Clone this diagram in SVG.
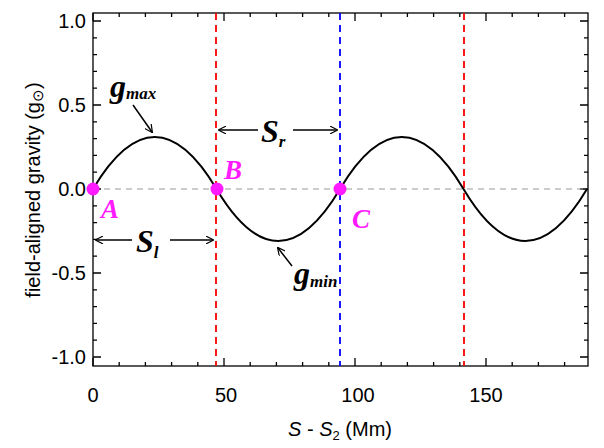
<svg xmlns="http://www.w3.org/2000/svg" width="604" height="448" viewBox="0 0 604 448">
<style>
.ax{stroke:#000;stroke-width:1.3;fill:none}
.tl{font-family:"Liberation Sans",Arial,sans-serif;font-size:20px;fill:#000}
.lb{font-family:"Liberation Serif","Times New Roman",serif;font-weight:bold;font-style:italic;fill:#000}
.pt{font-family:"Liberation Serif","Times New Roman",serif;font-weight:bold;font-style:italic;font-size:27px;fill:#ff1aff}
.ar{stroke:#000;stroke-width:1.5;fill:none;marker-end:url(#ah)}
</style>
<defs>
<marker id="ah" viewBox="0 0 10 10" refX="9" refY="5" markerWidth="8" markerHeight="8" orient="auto" markerUnits="userSpaceOnUse">
<path d="M0,0 L10,5 L0,10" fill="none" stroke="#000" stroke-width="1.5"/>
</marker>
</defs>
<rect width="604" height="448" fill="#fff"/>
<g id="axes">
<rect x="93" y="13" width="495" height="353" class="ax"/>
<path class="ax" d="M93,366v-8M224,366v-8M355,366v-8M486,366v-8M93,13v8M224,13v8M355,13v8M486,13v8
M119.2,366v-4M145.4,366v-4M171.6,366v-4M197.8,366v-4M250.2,366v-4M276.4,366v-4M302.6,366v-4M328.8,366v-4M381.2,366v-4M407.4,366v-4M433.6,366v-4M459.8,366v-4M512.2,366v-4M538.4,366v-4M564.6,366v-4
M119.2,13v4M145.4,13v4M171.6,13v4M197.8,13v4M250.2,13v4M276.4,13v4M302.6,13v4M328.8,13v4M381.2,13v4M407.4,13v4M433.6,13v4M459.8,13v4M512.2,13v4M538.4,13v4M564.6,13v4
M93,21h8M93,105h8M93,189h8M93,273h8M93,357h8M588,21h-8M588,105h-8M588,189h-8M588,273h-8M588,357h-8
M93,37.8h4M93,54.6h4M93,71.4h4M93,88.2h4M93,121.8h4M93,138.6h4M93,155.4h4M93,172.2h4M93,205.8h4M93,222.6h4M93,239.4h4M93,256.2h4M93,289.8h4M93,306.6h4M93,323.4h4M93,340.2h4
M588,37.8h-4M588,54.6h-4M588,71.4h-4M588,88.2h-4M588,121.8h-4M588,138.6h-4M588,155.4h-4M588,172.2h-4M588,205.8h-4M588,222.6h-4M588,239.4h-4M588,256.2h-4M588,289.8h-4M588,306.6h-4M588,323.4h-4M588,340.2h-4"/>
<g class="tl" text-anchor="end">
<text x="86" y="28">1.0</text><text x="86" y="112">0.5</text><text x="86" y="196">0.0</text><text x="86" y="280">-0.5</text><text x="86" y="364">-1.0</text>
</g>
<g class="tl" text-anchor="middle">
<text x="93" y="402">0</text><text x="226" y="402">50</text><text x="358" y="402">100</text><text x="486" y="402">150</text>
</g>
<text class="tl" x="340" y="436" text-anchor="middle"><tspan font-style="italic">S</tspan> - <tspan font-style="italic">S</tspan><tspan font-size="13" dy="4">2</tspan><tspan dy="-4"> (Mm)</tspan></text>
<text class="tl" transform="translate(40,190) rotate(-90)" text-anchor="middle">field-aligned gravity (g<tspan font-size="15" dy="3">⊙</tspan><tspan dy="-3">)</tspan></text>
</g>
<g id="lines">
<line x1="93" y1="189" x2="588" y2="189" stroke="#999" stroke-width="1.2" stroke-dasharray="6,5"/>
<line x1="216" y1="13" x2="216" y2="366" stroke="#f00" stroke-width="1.8" stroke-dasharray="7,5"/>
<line x1="340" y1="13" x2="340" y2="366" stroke="#00f" stroke-width="1.8" stroke-dasharray="7,5"/>
<line x1="464" y1="13" x2="464" y2="366" stroke="#f00" stroke-width="1.8" stroke-dasharray="7,5"/>
<path id="curve" fill="none" stroke="#000" stroke-width="2" d="M93,189 C134.2,119.7 175.3,119.7 216.5,189 C257.7,258.3 298.8,258.3 340,189 C381.2,119.7 422.3,119.7 463.5,189 C504.7,258.3 545.8,258.3 587,189"/>
</g>
<g id="connectors">
<line class="ar" x1="133" y1="105" x2="152" y2="132"/>
<line class="ar" x1="258" y1="130" x2="219" y2="130"/>
<line class="ar" x1="293" y1="130" x2="337" y2="130"/>
<line class="ar" x1="132" y1="240" x2="96" y2="240"/>
<line class="ar" x1="170" y1="240" x2="213" y2="240"/>
<line class="ar" x1="292" y1="266" x2="278" y2="248"/>
</g>
<g id="points" fill="#ff1aff">
<circle cx="93" cy="189" r="6.5"/><circle cx="217" cy="189" r="6.5"/><circle cx="340" cy="189" r="6.5"/>
</g>
<g id="labels">
<text class="lb" x="110" y="97" font-size="32">g<tspan font-size="17" dy="2">max</tspan></text>
<text class="lb" x="294" y="284" font-size="32">g<tspan font-size="17" dy="3">min</tspan></text>
<text class="lb" x="261" y="142" font-size="32">S<tspan font-size="17" dy="5">r</tspan></text>
<text class="lb" x="136" y="252" font-size="32">S<tspan font-size="17" dy="6">l</tspan></text>
<text class="pt" x="101" y="218">A</text>
<text class="pt" x="224" y="179">B</text>
<text class="pt" x="352" y="228">C</text>
</g>
</svg>
